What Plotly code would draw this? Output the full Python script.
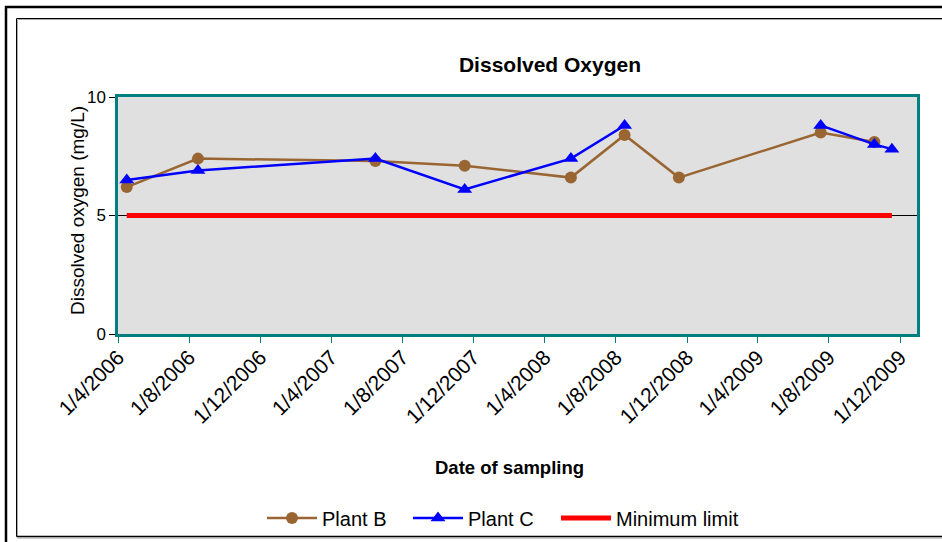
import plotly.graph_objects as go

# Sampling dates and dissolved oxygen readings (mg/L); None = not sampled
sample_dates = ["2006-04-16", "2006-08-16", "2007-06-16", "2007-11-16", "2008-05-16",
                "2008-08-16", "2008-11-17", "2009-07-18", "2009-10-18", "2009-11-17"]
plant_b_values = [6.2, 7.4, 7.3, 7.1, 6.6, 8.4, 6.6, 8.5, 8.1, None]
plant_c_values = [6.5, 6.9, 7.4, 6.1, 7.4, 8.8, None, 8.8, 8.0, 7.8]

limit_dates = ["2006-04-16", "2009-11-17"]
limit_values = [5, 5]

tick_dates = ["2006-04-01", "2006-08-01", "2006-12-01", "2007-04-01", "2007-08-01",
              "2007-12-01", "2008-04-01", "2008-08-01", "2008-12-01", "2009-04-01",
              "2009-08-01", "2009-12-01"]
tick_labels = ["1/4/2006", "1/8/2006", "1/12/2006", "1/4/2007", "1/8/2007", "1/12/2007",
               "1/4/2008", "1/8/2008", "1/12/2008", "1/4/2009", "1/8/2009", "1/12/2009"]

W, H = 942, 542
L, R, T, B = 118, 917, 97, 334   # plot area edges in pixels


def px(x):
    return (x - L) / (R - L)


def py(y):
    return (B - y) / (B - T)


FONT = "Arial, Liberation Sans, sans-serif"
TEAL = "#008080"

fig = go.Figure()
fig.add_trace(go.Scatter(
    x=sample_dates, y=plant_b_values, name="Plant B", mode="lines+markers",
    connectgaps=False, legend="legend",
    line=dict(color="#996633", width=2.5),
    marker=dict(symbol="circle", size=12, color="#996633", line=dict(width=0)),
))
fig.add_trace(go.Scatter(
    x=sample_dates, y=plant_c_values, name="Plant C", mode="lines+markers",
    connectgaps=False, legend="legend",
    line=dict(color="#0000FF", width=2.5),
    marker=dict(symbol="triangle-up", size=13, color="#0000FF", line=dict(width=0)),
))
fig.add_trace(go.Scatter(
    x=limit_dates, y=limit_values, name="Minimum limit", mode="lines",
    legend="legend2",
    line=dict(color="#FF0000", width=5),
))


def hline(x0, x1, y, w, color="black"):
    return dict(type="line", xref="paper", yref="paper", x0=px(x0), x1=px(x1),
                y0=py(y), y1=py(y), line=dict(color=color, width=w), layer="above")


def vline(x, y0, y1, w, color="black"):
    return dict(type="line", xref="paper", yref="paper", x0=px(x), x1=px(x),
                y0=py(y0), y1=py(y1), line=dict(color=color, width=w), layer="above")


shapes = [
    # outer chart frame
    hline(5, 945, 7, 2.5),
    vline(6, 6, 545, 2.5),
    # inner chart frame with a faint shadow
    hline(16.5, 945, 18.5, 1),
    hline(17.5, 945, 19.5, 1, "#aaaaaa"),
    vline(16.5, 18.5, 536.5, 1),
    vline(17.5, 19.5, 536.5, 1, "#aaaaaa"),
    hline(16.5, 945, 536.5, 1.5),
    hline(17.5, 945, 538, 1, "#999999"),
]

legend_style = dict(orientation="h", xanchor="left", y=py(518), yanchor="middle",
                    font=dict(size=20, family=FONT), itemwidth=50, bgcolor="rgba(0,0,0,0)")

fig.update_layout(
    width=W, height=H, autosize=False,
    margin=dict(l=L, r=W - R, t=T, b=H - B, autoexpand=False),
    paper_bgcolor="white", plot_bgcolor="#E0E0E0",
    font=dict(family=FONT, color="black", size=18),
    title=dict(text="<b>Dissolved Oxygen</b>", font=dict(size=21, family=FONT, color="black"),
               xref="paper", x=px(550), xanchor="center",
               yref="container", y=1 - 65 / H, yanchor="middle"),
    showlegend=True,
    legend=dict(x=px(262), entrywidth=81, entrywidthmode="pixels", **legend_style),
    legend2=dict(x=px(556), **legend_style),
    shapes=shapes,
    annotations=[
        dict(text="<b>Date of sampling</b>", xref="paper", yref="paper", x=px(509), y=py(467),
             showarrow=False, font=dict(size=18.5, family=FONT), xanchor="center", yanchor="middle"),
        dict(text="Dissolved oxygen (mg/L)", xref="paper", yref="paper", x=px(77), y=py(211),
             showarrow=False, textangle=-90, font=dict(size=19, family=FONT),
             xanchor="center", yanchor="middle"),
    ],
)

fig.update_xaxes(
    type="date", range=["2006-04-01", "2009-12-30"],
    tickmode="array", tickvals=tick_dates, ticktext=tick_labels, tickangle=-45,
    tickfont=dict(size=21, family=FONT), ticklabelstandoff=-6,
    showline=True, linecolor=TEAL, linewidth=2.5, mirror=True,
    ticks="outside", tickcolor=TEAL, ticklen=6, tickwidth=1,
    showgrid=False, zeroline=False,
)
fig.update_yaxes(
    range=[0, 10], tickmode="array", tickvals=[0, 5, 10], ticktext=["0", "5", "10"],
    tickfont=dict(size=17, family=FONT),
    showline=True, linecolor=TEAL, linewidth=2.5, mirror=True,
    ticks="outside", tickcolor="black", ticklen=6, tickwidth=1,
    showgrid=True, gridcolor="black", gridwidth=1, zeroline=False,
)

fig.write_html("out.html")
